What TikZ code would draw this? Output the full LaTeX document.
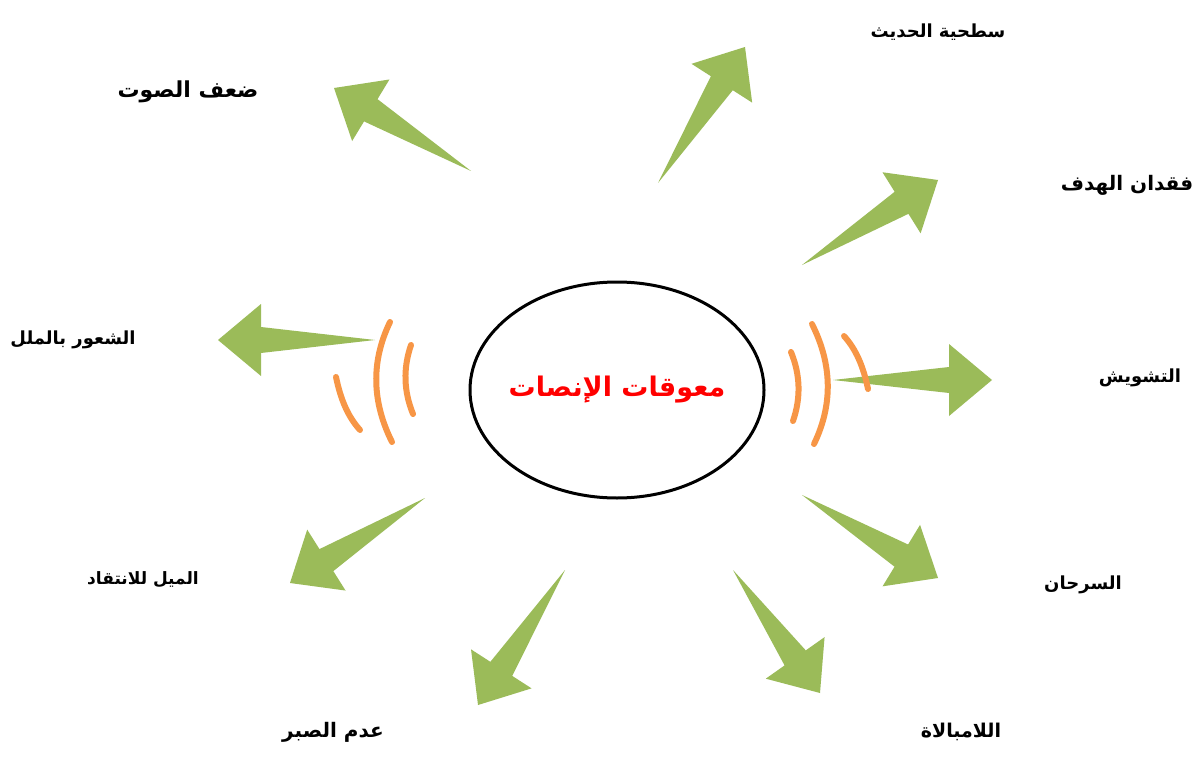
\documentclass[tikz,border=0pt]{standalone}
\usepackage{fontspec}
\usetikzlibrary{calc,shapes.geometric}
\TeXXeTstate=1
\newfontfamily\arabicfont[Script=Arabic]{DejaVu Sans}
\definecolor{arrowgreen}{HTML}{9BBB59}
\definecolor{arcorange}{HTML}{F79646}
\newcommand{\fatarrow}[2]{%
  \coordinate (#2b) at ($(#2)!43pt!(#1)$);
  \fill[arrowgreen] (#1) -- ($(#2b)!13pt!90:(#2)$) -- ($(#2b)!36pt!90:(#2)$) -- (#2)
    -- ($(#2b)!36pt!-90:(#2)$) -- ($(#2b)!13pt!-90:(#2)$) -- cycle;}
\newcommand{\arfs}[1]{\arabicfont\bfseries\fontsize{#1}{#1}\selectfont}
\tikzset{
  lbl/.style={inner sep=0pt},
  ctr/.style={font=\arfs{27}, text=red, inner sep=0pt},
  wave/.style={draw=arcorange, line width=6pt, line cap=round},
  hub/.style={draw=black, ellipse, line width=3pt, minimum width=294pt, minimum height=216pt}
}
\begin{document}
\begin{tikzpicture}[x=1pt,y=-1pt]
\useasboundingbox[fill=white] (0,0) rectangle (1198,759);
% hub
\node[hub] (hub) at (617,390) {};
\node[ctr] (title) at (617,390) {\beginR معوقات الإنصات\endR};
% arrows
\coordinate (t1) at (471,171); \coordinate (p1) at (334,88);
\coordinate (t2) at (658,183); \coordinate (p2) at (745,47);
\coordinate (t3) at (802,265); \coordinate (p3) at (938,180);
\coordinate (t4) at (833,380); \coordinate (p4) at (992,380);
\coordinate (t5) at (802,495); \coordinate (p5) at (938,578);
\coordinate (t6) at (733,570); \coordinate (p6) at (820,693);
\coordinate (t7) at (565,570); \coordinate (p7) at (478,705);
\coordinate (t8) at (425,498); \coordinate (p8) at (290,583);
\coordinate (t9) at (375,340); \coordinate (p9) at (218,340);
\fatarrow{t1}{p1}
\fatarrow{t2}{p2}
\fatarrow{t3}{p3}
\fatarrow{t4}{p4}
\fatarrow{t5}{p5}
\fatarrow{t6}{p6}
\fatarrow{t7}{p7}
\fatarrow{t8}{p8}
\fatarrow{t9}{p9}
% sound waves right
\draw[wave] (791,352) .. controls (800.3,374.7) and (801,397.7) .. (793,421);
\draw[wave] (812,324) .. controls (832,364) and (833.3,404) .. (814,444);
\draw[wave] (844,336) .. controls (856,349.3) and (863.3,366.3) .. (868,389);
% sound waves left
\draw[wave] (413,414) .. controls (403.7,391.3) and (403,368.3) .. (411,345);
\draw[wave] (392,442) .. controls (372,402) and (370.7,362) .. (390,322);
\draw[wave] (360,430) .. controls (348,416.7) and (340.7,399.7) .. (336,377);
% labels
\node[lbl, font=\arfs{22}] (l1) at (188,92) {\beginR ضعف الصوت\endR};
\node[lbl, font=\arfs{18}] (l2) at (938,32) {\beginR سطحية الحديث\endR};
\node[lbl, font=\arfs{20}] (l3) at (1127,185) {\beginR فقدان الهدف\endR};
\node[lbl, font=\arfs{18}] (l4) at (1140,378) {\beginR التشويش\endR};
\node[lbl, font=\arfs{18}] (l5) at (1083,585) {\beginR السرحان\endR};
\node[lbl, font=\arfs{19}] (l6) at (961,732) {\beginR اللامبالاة\endR};
\node[lbl, font=\arfs{20}] (l7) at (333,732) {\beginR عدم الصبر\endR};
\node[lbl, font=\arfs{17}] (l8) at (143,580) {\beginR الميل للانتقاد\endR};
\node[lbl, font=\arfs{18}] (l9) at (73,340) {\beginR الشعور بالملل\endR};
\end{tikzpicture}
\end{document}
